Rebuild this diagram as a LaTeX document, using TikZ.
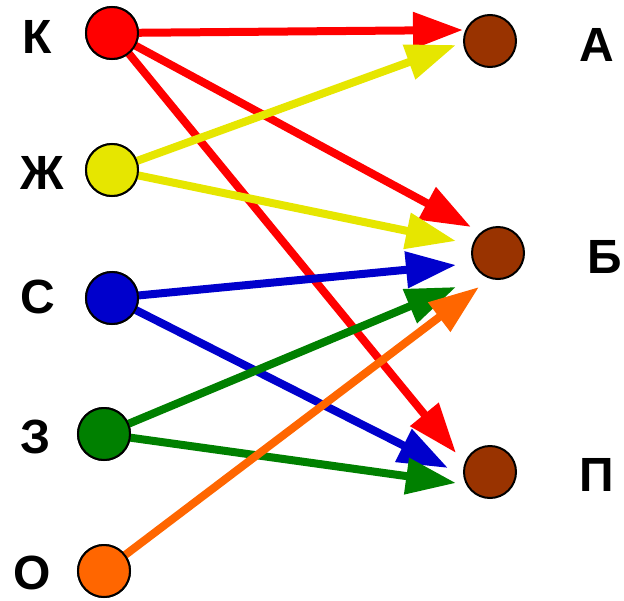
\documentclass[tikz,border=0pt]{standalone}
\usepackage{fontspec}
\setmainfont{Liberation Sans}
\usetikzlibrary{arrows.meta}
\definecolor{cred}{HTML}{FF0000}
\definecolor{cyel}{HTML}{E6E600}
\definecolor{cblue}{HTML}{0000CC}
\definecolor{cgreen}{HTML}{008000}
\definecolor{corange}{HTML}{FF6600}
\definecolor{cbrown}{HTML}{993300}
\begin{document}
\begin{tikzpicture}[x=1pt,y=-1pt,
  dot/.style={circle,draw=black,line width=2pt,minimum size=52pt,inner sep=0pt},
  lbl/.style={font=\fontsize{48}{48}\selectfont\bfseries,inner sep=0pt},
  conn/.style={line width=8pt,shorten <=-2pt,-{Triangle[length=50pt,width=35pt]}}]
\useasboundingbox (0,0) rectangle (624,600);
% labels
\node[lbl] (lK) at (37,37) {К};
\node[lbl] (lZh) at (42,173) {Ж};
\node[lbl] (lS) at (38,297) {С};
\node[lbl] (lZ) at (36,437) {З};
\node[lbl] (lO) at (32,573) {О};
\node[lbl] (lA) at (597,45) {А};
\node[lbl] (lB) at (605,257) {Б};
\node[lbl] (lP) at (597,475) {П};
% arrow tip coordinates
\coordinate (tKA) at (463,30);
\coordinate (tZhA) at (456,45);
\coordinate (tKB) at (471,227);
\coordinate (tZhB) at (456,241);
\coordinate (tSB) at (456,265);
\coordinate (tZB) at (456,287);
\coordinate (tOB) at (479,287);
\coordinate (tKP) at (456,453);
\coordinate (tSP) at (448,468);
\coordinate (tZP) at (456,483);
% circles
\node[dot,fill=cred] (K) at (112,33) {};
\node[dot,fill=cyel] (Zh) at (112,170) {};
\node[dot,fill=cblue] (S) at (112,298) {};
\node[dot,fill=cgreen] (Z) at (104,434) {};
\node[dot,fill=corange] (O) at (104,571) {};
\node[dot,fill=cbrown] (A) at (490,41) {};
\node[dot,fill=cbrown] (B) at (498,253) {};
\node[dot,fill=cbrown] (P) at (490,472) {};
% connectors
\draw[conn,cred] (K) -- (tKA);
\draw[conn,cred] (K) -- (tKB);
\draw[conn,cred] (K) -- (tKP);
\draw[conn,cyel] (Zh) -- (tZhA);
\draw[conn,cyel] (Zh) -- (tZhB);
\draw[conn,cblue] (S) -- (tSB);
\draw[conn,cblue] (S) -- (tSP);
\draw[conn,cgreen] (Z) -- (tZB);
\draw[conn,cgreen] (Z) -- (tZP);
\draw[conn,corange] (O) -- (tOB);
% redraw circles on top of line starts
\node[dot,fill=cred] at (K) {};
\node[dot,fill=cyel] at (Zh) {};
\node[dot,fill=cblue] at (S) {};
\node[dot,fill=cgreen] at (Z) {};
\node[dot,fill=corange] at (O) {};
\end{tikzpicture}
\end{document}
